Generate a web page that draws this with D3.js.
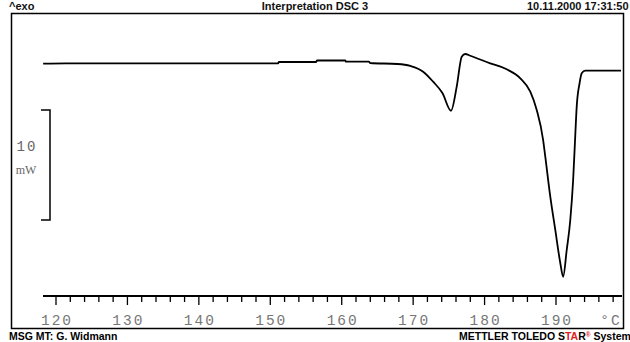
<!DOCTYPE html>
<html>
<head>
<meta charset="utf-8">
<script src="https://cdn.jsdelivr.net/npm/d3@7"></script>
<style>
  body { margin: 0; background: #fff; }
  svg { display: block; }
</style>
</head>
<body>
<svg id="chart" width="630" height="342"></svg>
<script>
// DSC curve, temperature in °C and heat flow in mW (exo up)
const temps = [118.2, 121.4, 151.1, 151.2, 156.4, 156.55, 160.5, 160.6, 163.8, 164.0, 167.8,
  169.6, 171.4, 172.8, 174.1, 175.3, 176.1, 176.8, 177.3, 178.0, 180.8, 183.1, 185.0, 186.4,
  187.3, 188.2, 188.5, 189.2, 189.9, 190.6, 191.0, 191.5, 192.0, 192.4, 192.7, 192.9, 193.3,
  193.6, 194.1, 199.1];
const heatFlow = [0.03, 0.06, 0.06, 0.18, 0.18, 0.32, 0.32, 0.21, 0.21, 0.09, 0.0,
  -0.18, -0.70, -1.61, -2.64, -4.25, -2.06, 0.66, 0.91, 0.75, 0.06, -0.48, -1.30, -2.52,
  -4.18, -6.91, -8.43, -12.06, -15.09, -18.09, -19.34, -16.91, -14.18, -10.55, -6.45, -3.88, -1.75,
  -0.85, -0.61, -0.61];
const tickLabels = [120, 130, 140, 150, 160, 170, 180, 190];
const minorTicks = d3.range(120, 199, 2);
const scaleBar = [0, 10]; // mW

const svg = d3.select("#chart");

const x = d3.scaleLinear().domain([120, 190]).range([56, 556]);
const y = d3.scaleLinear().domain([0, -10]).range([64, 174]);

// frame
svg.append("rect")
  .attr("x", 11.5).attr("y", 13.5)
  .attr("width", 612).attr("height", 315)
  .attr("fill", "none").attr("stroke", "#000").attr("stroke-width", 1.5);

// header
const head = svg.append("g")
  .attr("font-family", "Liberation Sans, Arial, sans-serif")
  .attr("font-size", 11).attr("font-weight", "bold").attr("fill", "#111");
head.append("text").attr("x", 9).attr("y", 10).text("^exo");
head.append("text").attr("x", 315).attr("y", 10).attr("text-anchor", "middle").text("Interpretation DSC 3");
head.append("text").attr("x", 527).attr("y", 10).text("10.11.2000 17:31:50");

// footer
const foot = svg.append("g")
  .attr("font-family", "Liberation Sans, Arial, sans-serif")
  .attr("font-size", 10.5).attr("font-weight", "bold").attr("fill", "#000");
foot.append("text").attr("x", 9).attr("y", 340).text("MSG MT: G. Widmann");
const brand = foot.append("text").attr("x", 459).attr("y", 340);
brand.append("tspan").text("METTLER TOLEDO S");
brand.append("tspan").attr("fill", "#e0201b").text("TA");
brand.append("tspan").text("R");
brand.append("tspan").attr("fill", "#e0201b").attr("font-size", 6.5).attr("dy", -3).text("®");
brand.append("tspan").attr("dy", 3).text(" System");

// temperature axis
const axisY = 296;
svg.append("line")
  .attr("x1", 43).attr("x2", 622)
  .attr("y1", axisY).attr("y2", axisY)
  .attr("stroke", "#000").attr("stroke-width", 2);

svg.append("g").selectAll("line")
  .data(minorTicks)
  .join("line")
  .attr("x1", d => x(d)).attr("x2", d => x(d))
  .attr("y1", axisY)
  .attr("y2", d => axisY + (d % 10 === 0 ? 9 : 6))
  .attr("stroke", "#000").attr("stroke-width", 1.3);

const lab = svg.append("g")
  .attr("font-family", "Liberation Mono, Courier New, monospace")
  .attr("font-size", 14.5).attr("fill", "#777")
  .attr("letter-spacing", 2);
lab.selectAll("text")
  .data(tickLabels)
  .join("text")
  .attr("x", d => x(d) + 1)
  .attr("y", 325)
  .attr("text-anchor", "middle")
  .text(d => d);
lab.append("text").attr("x", 611).attr("y", 325).attr("text-anchor", "middle").text("°C");

// 10 mW scale bar
const barX = 50;
svg.append("path")
  .attr("d", `M${barX - 9},${y(-4.18)}H${barX}V${y(-4.18 - scaleBar[1])}H${barX - 9}`)
  .attr("fill", "none").attr("stroke", "#000").attr("stroke-width", 1.5);
const sb = svg.append("g")
  .attr("font-family", "Liberation Mono, Courier New, monospace")
  .attr("font-size", 14).attr("fill", "#666");
sb.append("text").attr("x", 27).attr("y", 151).attr("text-anchor", "middle").attr("letter-spacing", 2).text(scaleBar[1]);
sb.append("text").attr("x", 26).attr("y", 174).attr("text-anchor", "middle").attr("font-size", 12)
  .attr("font-family", "Liberation Serif, serif").text("mW");

// curve
const line = d3.line()
  .x((d, i) => x(temps[i]))
  .y(d => y(d))
  .curve(d3.curveMonotoneX);

svg.append("path")
  .datum(heatFlow)
  .attr("d", line)
  .attr("fill", "none")
  .attr("stroke", "#000")
  .attr("stroke-width", 1.8)
  .attr("stroke-linejoin", "round");
</script>
</body>
</html>
